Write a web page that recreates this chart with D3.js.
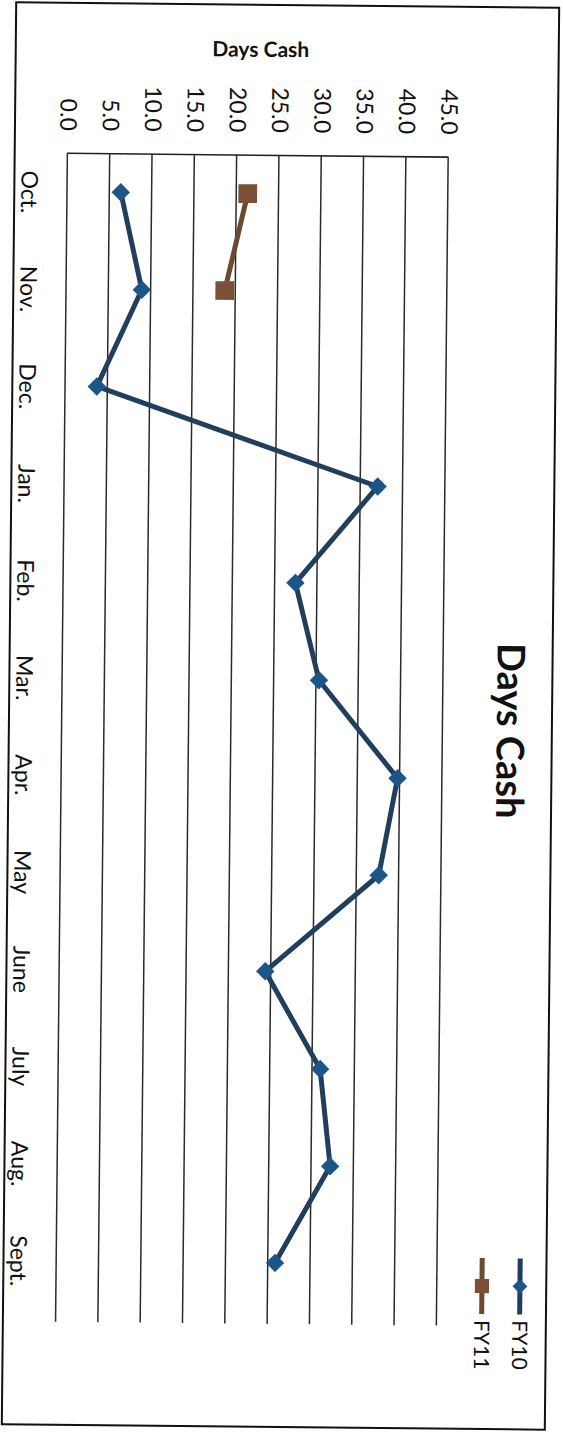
<!DOCTYPE html>
<html>
<head>
<meta charset="utf-8">
<script src="https://cdn.jsdelivr.net/npm/d3@7"></script>
<style>
  body { margin: 0; background: #fff; }
  svg { display: block; }
  text { font-family: Lato, "Open Sans", sans-serif; fill: #111; }
</style>
</head>
<body>
<svg id="chart" width="563" height="1433"></svg>
<script>
// Monthly days-cash-on-hand, fiscal years starting in October
const months = ["Oct.", "Nov.", "Dec.", "Jan.", "Feb.", "Mar.", "Apr.", "May", "June", "July", "Aug.", "Sept."];
const fy10 = [6.3, 8.9, 3.7, 37.0, 27.4, 30.3, 39.7, 37.6, 24.3, 30.9, 32.2, 25.8];
const fy11 = [21.3, 18.7];
const valueTicks = [0, 5, 10, 15, 20, 25, 30, 35, 40, 45];
const seriesNames = ["FY10", "FY11"];
const chartTitle = "Days Cash";
const valueAxisTitle = "Days Cash";

// The chart is laid out landscape and turned a quarter turn onto the portrait page.
const PAGE_W = 563, PAGE_H = 1433;
const plotLeft = 155, plotRight = 1324;

const svg = d3.select("#chart");
const page = svg.append("g").attr("transform", "rotate(0.58 282 716)");

// outer chart border
page.append("rect")
  .attr("x", 9).attr("y", 5)
  .attr("width", 543).attr("height", 1422)
  .attr("fill", "none").attr("stroke", "#111").attr("stroke-width", 2);

const g = page.append("g").attr("transform", `translate(${PAGE_W},0) rotate(90)`);

const x = d3.scalePoint().domain(months).range([194, 1263]);
const y = d3.scaleLinear().domain([0, 45]).range([500.8, 120]);

// value axis with full-width gridlines
const yAxis = g.append("g")
  .attr("transform", `translate(${plotLeft},0)`)
  .call(d3.axisLeft(y)
    .tickValues(valueTicks)
    .tickFormat(d3.format(".1f"))
    .tickSize(-(plotRight - plotLeft))
    .tickSizeOuter(0)
    .tickPadding(22));
yAxis.select(".domain").attr("stroke", "#222").attr("stroke-width", 1.6);
yAxis.selectAll(".tick line").attr("stroke", "#2b2b2b").attr("stroke-width", 1.5);
yAxis.selectAll(".tick text")
  .style("font-size", "23px")
  .style("font-family", "Lato, sans-serif")
  .attr("fill", "#111");

// category labels
const xAxis = g.append("g")
  .attr("transform", `translate(0,${y(0)})`)
  .call(d3.axisBottom(x).tickSize(0).tickPadding(30));
xAxis.select(".domain").remove();
xAxis.selectAll(".tick text")
  .style("font-size", "23px")
  .style("font-family", "Lato, sans-serif")
  .attr("fill", "#111");

// value axis title
g.append("text")
  .attr("transform", `translate(57,309) rotate(-90)`)
  .attr("text-anchor", "middle")
  .style("font-size", "21px")
  .style("font-weight", "bold")
  .text(valueAxisTitle);

// chart title
g.append("text")
  .attr("x", (x.range()[0] + x.range()[1]) / 2)
  .attr("y", 66)
  .attr("text-anchor", "middle")
  .style("font-size", "38px")
  .style("font-weight", "bold")
  .text(chartTitle);

const styles = {
  FY10: { line: "#213f5c", marker: "#1c5689", shape: "diamond" },
  FY11: { line: "#6b4a30", marker: "#7a5036", shape: "square" }
};

function markerPath(shape) {
  return shape === "diamond"
    ? d3.symbol(d3.symbolSquare, 170)()
    : d3.symbol(d3.symbolSquare, 350)();
}
function markerTransform(shape, px, py) {
  return shape === "diamond" ? `translate(${px},${py}) rotate(45)` : `translate(${px},${py})`;
}

const line = d3.line()
  .x((d, i) => x(months[i]))
  .y(d => y(d));

[[seriesNames[0], fy10], [seriesNames[1], fy11]].forEach(([name, vals]) => {
  const st = styles[name];
  g.append("path")
    .datum(vals)
    .attr("d", line)
    .attr("fill", "none")
    .attr("stroke", st.line)
    .attr("stroke-width", 5)
    .attr("stroke-linejoin", "round");
  g.selectAll(null)
    .data(vals)
    .join("path")
    .attr("d", markerPath(st.shape))
    .attr("transform", (d, i) => markerTransform(st.shape, x(months[i]), y(d)))
    .attr("fill", st.marker);
});

// legend
const legendRows = [37.3, 75.3];
seriesNames.forEach((name, k) => {
  const st = styles[name];
  const ly = legendRows[k];
  const lg = g.append("g");
  lg.append("line")
    .attr("x1", 1256).attr("x2", 1312)
    .attr("y1", ly).attr("y2", ly)
    .attr("stroke", st.line).attr("stroke-width", 5);
  lg.append("path")
    .attr("d", st.shape === "diamond" ? d3.symbol(d3.symbolSquare, 110)() : d3.symbol(d3.symbolSquare, 200)())
    .attr("transform", markerTransform(st.shape, 1284, ly))
    .attr("fill", st.marker);
  lg.append("text")
    .attr("x", 1318).attr("y", ly)
    .attr("dy", "0.35em")
    .style("font-size", "21px")
    .text(name);
});
</script>
</body>
</html>
